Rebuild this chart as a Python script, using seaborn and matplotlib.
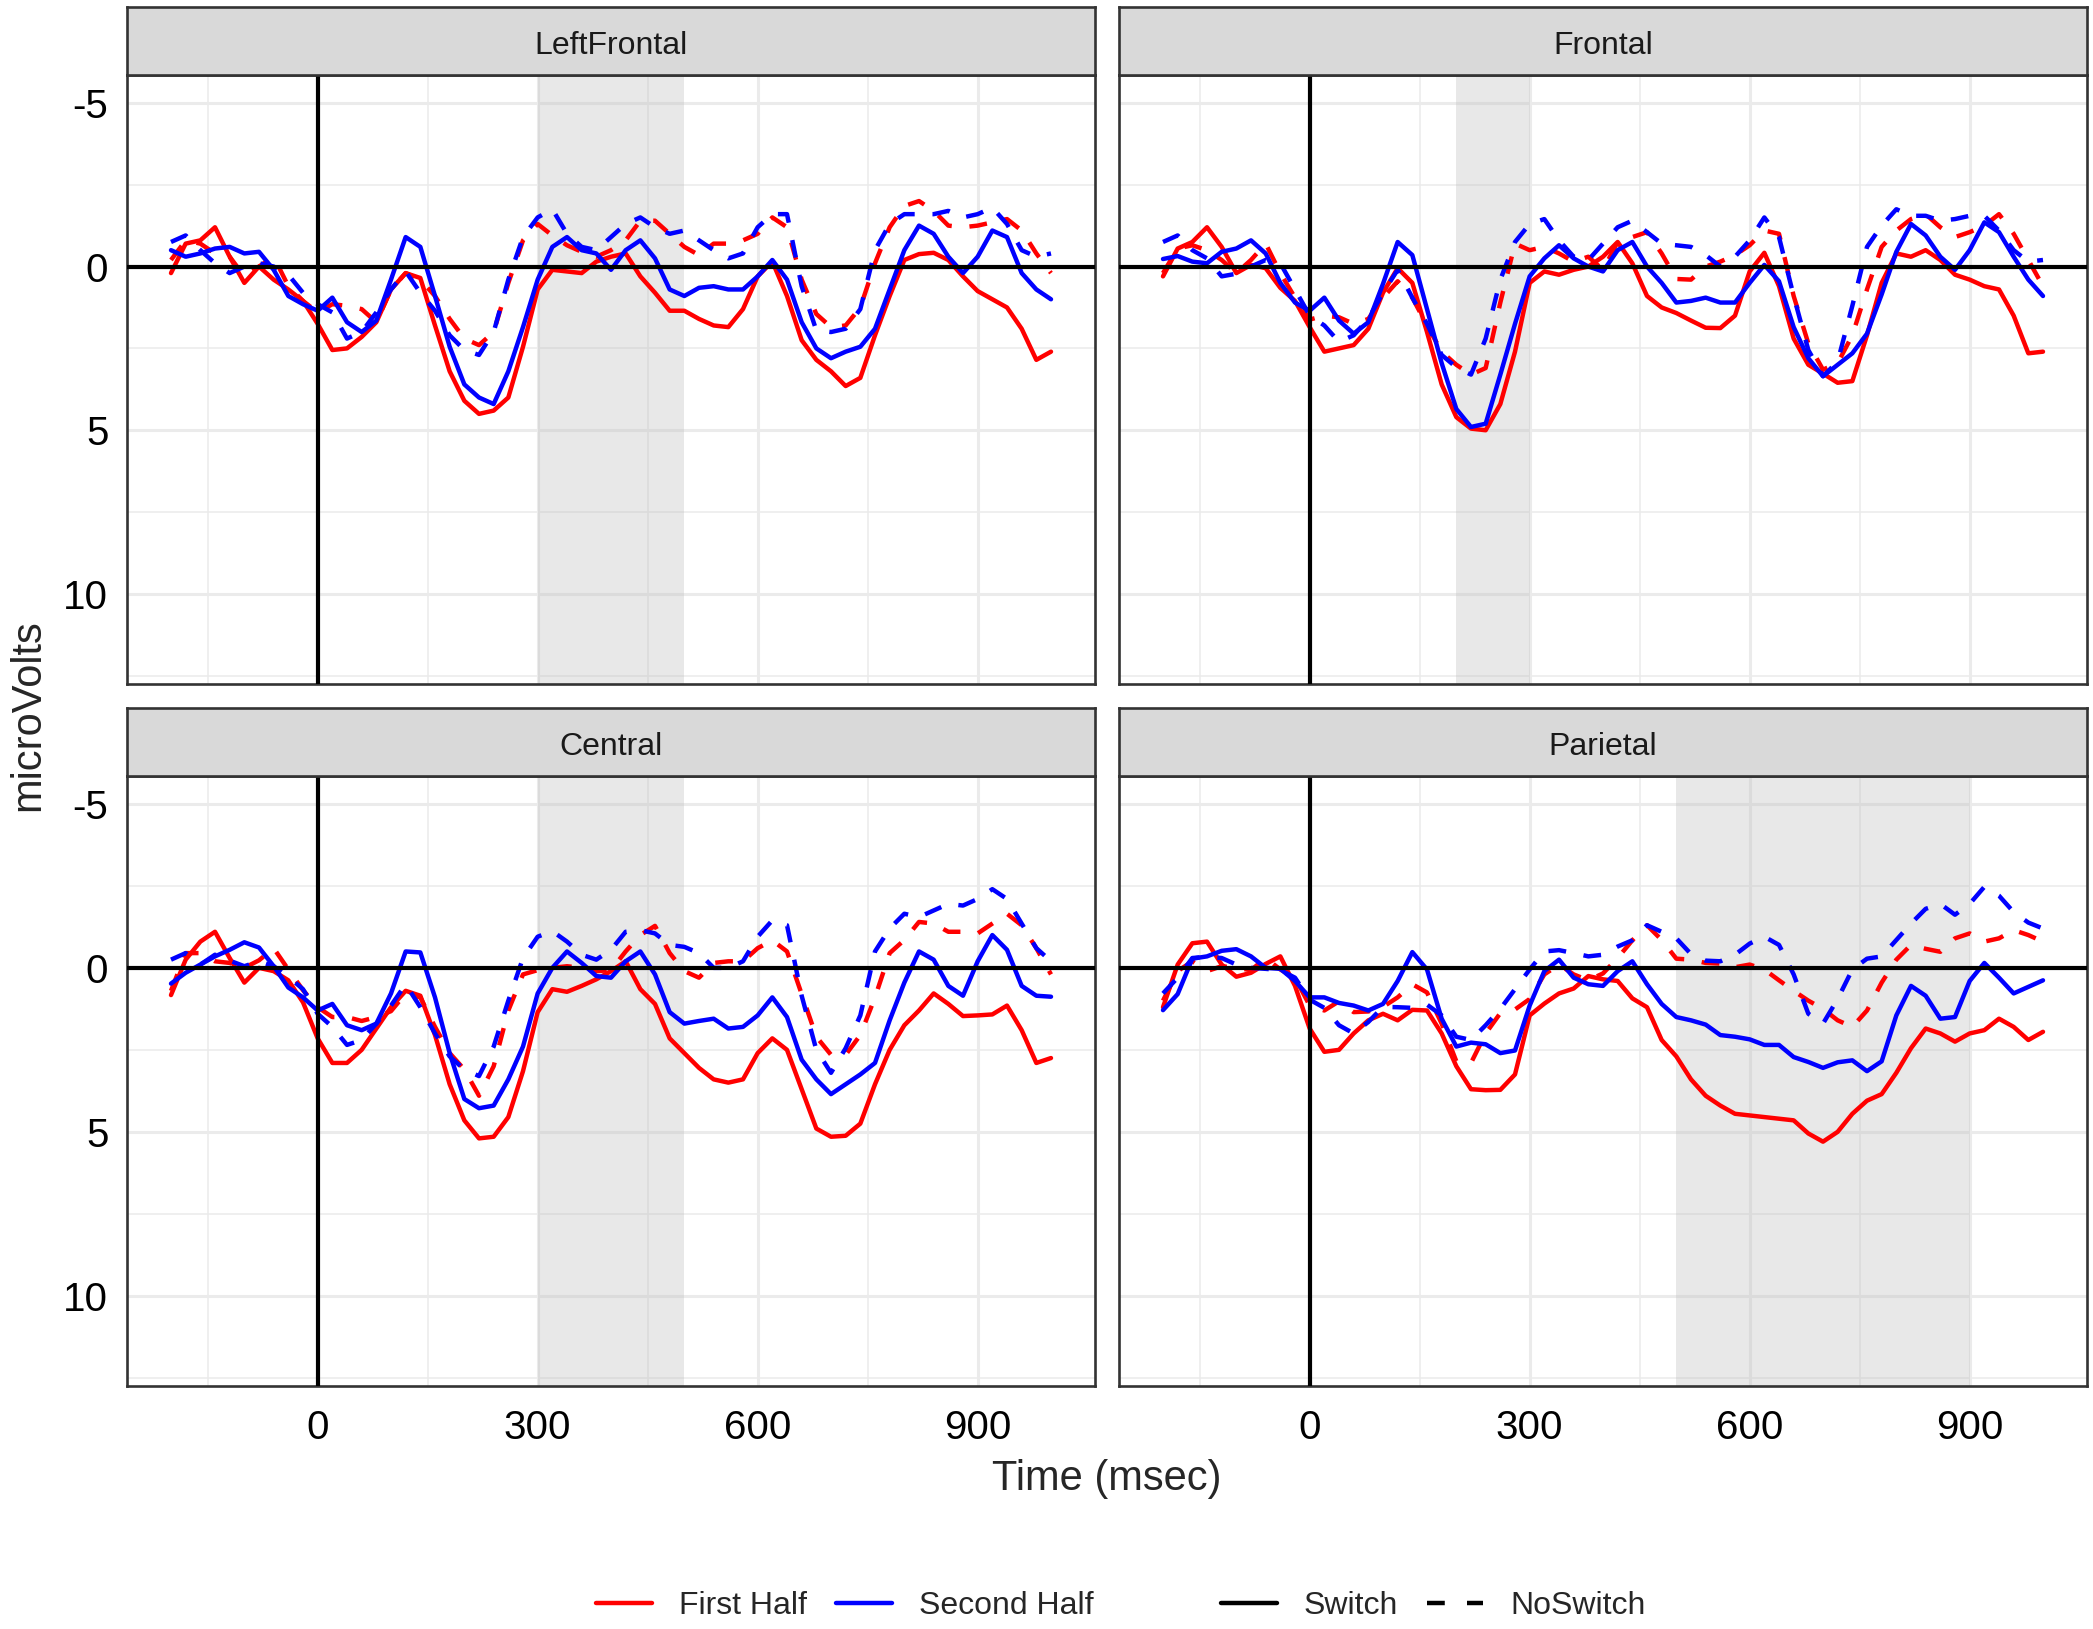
import matplotlib
matplotlib.use("Agg")
import matplotlib.pyplot as plt
import pandas as pd
import seaborn as sns
from matplotlib.lines import Line2D

# sampling grid (msec) and electrode regions
time_ms = list(range(-200, 1001, 20))
regions = ["LeftFrontal", "Frontal", "Central", "Parietal"]
halves = ["First Half", "Second Half"]
conditions = ["Switch", "NoSwitch"]
shade_windows = {"LeftFrontal": (300, 500), "Frontal": (200, 300),
                 "Central": (300, 500), "Parietal": (500, 900)}

# values (microvolts, negative up)
lf_first_switch = [
    0.2, -0.7, -0.8, -1.2, -0.3, 0.5, 0.0, 0.4, 0.7, 1.05,
    1.75, 2.55, 2.5, 2.15, 1.7, 0.7, 0.2, 0.35, 1.8, 3.2,
    4.1, 4.5, 4.4, 4.0, 2.45, 0.7, 0.1, 0.15, 0.2, -0.15,
    -0.3, -0.4, 0.3, 0.8, 1.35, 1.35, 1.6, 1.8, 1.85, 1.3,
    0.3, -0.15, 0.9, 2.25, 2.85, 3.2, 3.65, 3.4, 2.1, 0.9,
    -0.2, -0.38, -0.42, -0.2, 0.3, 0.75, 1.0, 1.25, 1.9, 2.85,
    2.6]
lf_second_switch = [
    -0.5, -0.3, -0.4, -0.55, -0.6, -0.4, -0.45, 0.1, 0.9, 1.15,
    1.35, 0.95, 1.7, 2.0, 1.65, 0.4, -0.9, -0.6, 0.9, 2.45,
    3.6, 4.0, 4.2, 3.2, 1.85, 0.4, -0.6, -0.9, -0.5, -0.4,
    0.1, -0.5, -0.8, -0.25, 0.7, 0.9, 0.65, 0.6, 0.7, 0.7,
    0.3, -0.2, 0.4, 1.7, 2.5, 2.8, 2.6, 2.45, 1.9, 0.7,
    -0.5, -1.25, -1.0, -0.3, 0.2, -0.3, -1.1, -0.9, 0.2, 0.7,
    1.0]
lf_first_noswitch = [
    -0.2, -0.8, -0.7, -0.4, -0.3, 0.3, 0.0, -0.3, 0.6, 1.05,
    1.4, 1.15, 1.2, 1.3, 1.7, 0.7, 0.2, 0.4, 0.9, 1.6,
    2.2, 2.4, 2.0, 0.5, -0.8, -1.3, -0.95, -0.65, -0.45, -0.3,
    -0.5, -0.8, -1.4, -1.4, -1.0, -0.6, -0.35, -0.7, -0.7, -0.8,
    -1.0, -1.5, -1.2, 0.4, 1.45, 1.85, 1.8, 1.25, -0.1, -1.2,
    -1.85, -2.0, -1.7, -1.25, -1.2, -1.25, -1.35, -1.45, -1.1, -0.4,
    0.2]
lf_second_noswitch = [
    -0.75, -0.95, -0.5, -0.1, 0.2, 0.0, -0.1, 0.0, 0.25, 0.8,
    1.15, 1.4, 2.2, 2.0, 1.4, 0.7, 0.15, 0.8, 1.35, 2.1,
    2.55, 2.7, 2.0, 0.4, -0.9, -1.5, -1.75, -1.0, -0.6, -0.5,
    -0.9, -1.3, -1.5, -1.2, -1.0, -1.1, -0.8, -0.5, -0.25, -0.4,
    -1.2, -1.6, -1.6, 0.6, 1.95, 2.0, 1.9, 1.3, -0.5, -1.3,
    -1.6, -1.6, -1.6, -1.7, -1.5, -1.6, -1.8, -1.3, -0.5, -0.3,
    -0.4]

fr_first_switch = [
    0.3, -0.55, -0.75, -1.2, -0.6, 0.2, -0.05, 0.05, 0.65, 1.05,
    1.85, 2.6, 2.5, 2.4, 1.9, 0.8, 0.05, 0.5, 2.0, 3.6,
    4.6, 4.95, 5.0, 4.2, 2.6, 0.5, 0.15, 0.25, 0.1, 0.0,
    -0.3, -0.75, -0.1, 0.9, 1.25, 1.42, 1.65, 1.87, 1.88, 1.5,
    0.15, -0.42, 0.6, 2.2, 3.0, 3.27, 3.55, 3.5, 2.1, 0.5,
    -0.4, -0.3, -0.5, -0.2, 0.25, 0.4, 0.6, 0.7, 1.5, 2.65,
    2.6]
fr_second_switch = [
    -0.23, -0.32, -0.15, -0.1, -0.45, -0.55, -0.8, -0.4, 0.5, 1.1,
    1.35, 0.95, 1.65, 2.05, 1.7, 0.53, -0.75, -0.35, 1.3, 2.95,
    4.35, 4.9, 4.8, 3.3, 1.75, 0.3, -0.25, -0.65, -0.25, 0.0,
    0.15, -0.5, -0.75, 0.0, 0.5, 1.1, 1.05, 0.95, 1.1, 1.1,
    0.5, -0.05, 0.45, 1.85, 2.8, 3.35, 3.0, 2.65, 2.05, 0.85,
    -0.45, -1.3, -0.95, -0.3, 0.1, -0.5, -1.35, -1.05, -0.3, 0.4,
    0.9]
fr_first_noswitch = [
    0.2, -0.55, -0.65, -0.5, -0.2, 0.2, -0.2, -0.7, 0.2, 0.95,
    1.62, 1.5, 1.55, 1.75, 1.6, 0.95, 0.45, 0.95, 1.8, 2.6,
    3.0, 3.3, 3.1, 1.1, -0.7, -0.5, -0.6, -0.4, -0.15, -0.3,
    0.1, -0.75, -0.9, -1.05, -0.4, 0.38, 0.4, 0.0, -0.15, -0.35,
    -0.65, -1.1, -1.0, 0.9, 2.35, 3.15, 2.95, 2.1, 0.7, -0.6,
    -1.1, -1.45, -1.6, -1.2, -0.9, -1.05, -1.25, -1.6, -1.0, -0.2,
    0.6]
fr_second_noswitch = [
    -0.75, -0.95, -0.5, -0.25, 0.3, 0.22, 0.0, -0.2, -0.1, 0.7,
    1.5, 1.8, 2.3, 2.1, 1.6, 0.8, 0.1, 0.95, 1.75, 2.7,
    3.08, 3.3, 2.2, 0.4, -0.75, -1.3, -1.45, -0.8, -0.3, -0.2,
    -0.7, -1.2, -1.4, -1.05, -0.7, -0.65, -0.6, -0.35, 0.0, -0.3,
    -0.8, -1.5, -0.9, 0.9, 2.55, 3.35, 2.9, 1.2, -0.6, -1.25,
    -1.75, -1.55, -1.55, -1.4, -1.45, -1.55, -1.55, -1.1, -0.5, -0.15,
    -0.2]

ce_first_switch = [
    0.83, -0.25, -0.8, -1.1, -0.3, 0.45, 0.0, 0.1, 0.38, 1.05,
    2.15, 2.9, 2.9, 2.5, 1.85, 1.2, 0.7, 0.85, 2.05, 3.55,
    4.65, 5.2, 5.15, 4.55, 3.15, 1.35, 0.65, 0.73, 0.55, 0.35,
    0.1, -0.2, 0.65, 1.1, 2.15, 2.6, 3.05, 3.4, 3.5, 3.4,
    2.6, 2.15, 2.5, 3.7, 4.9, 5.15, 5.12, 4.75, 3.55, 2.5,
    1.75, 1.3, 0.78, 1.1, 1.47, 1.45, 1.42, 1.15, 1.9, 2.9,
    2.75]
ce_second_switch = [
    0.48, 0.15, -0.1, -0.35, -0.55, -0.78, -0.62, -0.05, 0.6, 0.9,
    1.3, 1.1, 1.75, 1.9, 1.7, 0.78, -0.5, -0.47, 0.9, 2.6,
    4.0, 4.28, 4.2, 3.4, 2.4, 0.78, 0.0, -0.5, -0.15, 0.25,
    0.3, -0.2, -0.5, 0.2, 1.35, 1.7, 1.62, 1.55, 1.85, 1.8,
    1.45, 0.9, 1.5, 2.8, 3.4, 3.85, 3.55, 3.25, 2.9, 1.6,
    0.45, -0.5, -0.25, 0.55, 0.85, -0.2, -1.0, -0.55, 0.55, 0.85,
    0.88]
ce_first_noswitch = [
    0.7, -0.45, -0.45, -0.2, -0.15, 0.0, -0.23, -0.6, 0.05, 0.68,
    1.2, 1.5, 1.5, 1.62, 1.5, 1.32, 0.78, 0.9, 1.8, 2.6,
    3.1, 3.9, 3.0, 1.3, 0.2, 0.07, 0.0, -0.05, 0.0, 0.1,
    0.07, -0.5, -1.0, -1.28, -0.45, 0.1, 0.3, -0.15, -0.2, -0.2,
    -0.6, -0.84, -0.5, 0.8, 2.1, 2.65, 2.65, 2.05, 0.9, -0.45,
    -0.85, -1.4, -1.35, -1.1, -1.1, -1.05, -1.35, -1.65, -1.3, -0.6,
    0.2]
ce_second_noswitch = [
    -0.25, -0.45, -0.1, -0.4, -0.22, -0.05, -0.2, -0.05, 0.27, 0.65,
    1.4, 1.8, 2.35, 2.2, 1.7, 1.15, 0.5, 1.2, 2.0, 2.7,
    3.1, 3.3, 2.4, 1.0, -0.3, -0.95, -1.12, -0.8, -0.4, -0.25,
    -0.55, -1.1, -1.15, -1.05, -0.7, -0.64, -0.45, 0.0, 0.0, -0.2,
    -0.95, -1.45, -1.3, 0.85, 2.5, 3.2, 2.45, 1.45, -0.5, -1.2,
    -1.65, -1.55, -1.75, -1.95, -1.9, -2.1, -2.4, -2.1, -1.35, -0.6,
    -0.2]

pa_first_switch = [
    1.2, -0.1, -0.75, -0.8, -0.1, 0.27, 0.15, -0.12, -0.35, 0.55,
    1.85, 2.56, 2.5, 2.0, 1.6, 1.4, 1.6, 1.28, 1.3, 2.0,
    3.0, 3.7, 3.73, 3.72, 3.25, 1.45, 1.09, 0.78, 0.63, 0.25,
    0.35, 0.4, 0.93, 1.2, 2.2, 2.7, 3.4, 3.9, 4.2, 4.45,
    4.5, 4.55, 4.6, 4.65, 5.05, 5.3, 5.0, 4.45, 4.05, 3.85,
    3.2, 2.45, 1.85, 2.0, 2.25, 2.0, 1.9, 1.55, 1.8, 2.2,
    1.95]
pa_second_switch = [
    1.29, 0.8, -0.28, -0.35, -0.52, -0.57, -0.35, 0.0, 0.03, 0.4,
    0.9, 0.9, 1.07, 1.15, 1.3, 1.1, 0.4, -0.48, 0.05, 1.55,
    2.4, 2.28, 2.33, 2.6, 2.52, 1.15, 0.1, -0.25, 0.3, 0.5,
    0.55, 0.1, -0.2, 0.5, 1.1, 1.5, 1.6, 1.73, 2.05, 2.1,
    2.18, 2.35, 2.35, 2.72, 2.87, 3.05, 2.88, 2.82, 3.15, 2.85,
    1.45, 0.55, 0.85, 1.55, 1.5, 0.4, -0.15, 0.3, 0.78, 0.58,
    0.38]
pa_first_noswitch = [
    1.0, 0.1, -0.2, 0.1, -0.05, 0.0, 0.07, -0.3, 0.05, 0.3,
    1.15, 1.3, 1.02, 1.35, 1.33, 1.19, 0.9, 0.5, 0.75, 1.7,
    2.85, 2.9, 2.0, 1.38, 1.27, 0.95, 0.2, -0.1, 0.2, 0.38,
    0.17, -0.3, -0.84, -1.3, -0.85, -0.28, -0.25, -0.15, -0.13, -0.02,
    -0.1, 0.05, 0.38, 0.7, 1.0, 1.25, 1.6, 1.8, 1.3, 0.45,
    -0.25, -0.7, -0.58, -0.49, -0.9, -1.05, -0.8, -0.9, -1.15, -1.0,
    -0.8]
pa_second_noswitch = [
    0.78, 0.3, -0.3, -0.34, -0.3, -0.1, 0.0, 0.03, 0.07, 0.3,
    0.97, 1.22, 1.75, 2.0, 1.65, 1.19, 1.2, 1.22, 1.12, 1.45,
    2.1, 2.2, 1.75, 1.25, 0.65, 0.05, -0.5, -0.54, -0.45, -0.35,
    -0.4, -0.65, -0.84, -1.3, -1.1, -0.9, -0.42, -0.22, -0.2, -0.4,
    -0.74, -0.95, -0.7, 0.2, 1.4, 1.7, 0.95, 0.05, -0.28, -0.35,
    -0.85, -1.35, -1.8, -1.95, -1.62, -1.95, -2.47, -2.2, -1.7, -1.38,
    -1.2]

series = {
    ("LeftFrontal", "First Half", "Switch"): lf_first_switch,
    ("LeftFrontal", "Second Half", "Switch"): lf_second_switch,
    ("LeftFrontal", "First Half", "NoSwitch"): lf_first_noswitch,
    ("LeftFrontal", "Second Half", "NoSwitch"): lf_second_noswitch,
    ("Frontal", "First Half", "Switch"): fr_first_switch,
    ("Frontal", "Second Half", "Switch"): fr_second_switch,
    ("Frontal", "First Half", "NoSwitch"): fr_first_noswitch,
    ("Frontal", "Second Half", "NoSwitch"): fr_second_noswitch,
    ("Central", "First Half", "Switch"): ce_first_switch,
    ("Central", "Second Half", "Switch"): ce_second_switch,
    ("Central", "First Half", "NoSwitch"): ce_first_noswitch,
    ("Central", "Second Half", "NoSwitch"): ce_second_noswitch,
    ("Parietal", "First Half", "Switch"): pa_first_switch,
    ("Parietal", "Second Half", "Switch"): pa_second_switch,
    ("Parietal", "First Half", "NoSwitch"): pa_first_noswitch,
    ("Parietal", "Second Half", "NoSwitch"): pa_second_noswitch,
}

rows = []
for (region, half, cond), vals in series.items():
    for t, v in zip(time_ms, vals):
        rows.append({"region": region, "half": half, "cond": cond, "time": t, "uv": v})
df = pd.DataFrame(rows)

sns.set_style("white")
plt.rcParams["font.family"] = ["Liberation Sans", "DejaVu Sans"]
plt.rcParams["axes.unicode_minus"] = False

W, H = 2093, 1629
fig = plt.figure(figsize=(W / 100, H / 100), dpi=100)


def box(l, t, r, b):
    return [l / W, 1 - b / H, (r - l) / W, (b - t) / H]


panel_px = {"LeftFrontal": (127, 75, 1095, 684), "Frontal": (1119, 75, 2087, 684),
            "Central": (127, 776, 1095, 1386), "Parietal": (1119, 776, 2087, 1386)}
palette = {"First Half": "#ff0000", "Second Half": "#0000ff"}
dashes = {"Switch": "", "NoSwitch": (4, 4)}
dark = "#333333"
lw = 3.2

for i, region in enumerate(regions):
    l, t, r, b = panel_px[region]
    ax = fig.add_axes(box(l, t, r, b))
    lo, hi = shade_windows[region]
    ax.axvspan(lo, hi, color="#bebebe", alpha=0.35, lw=0, zorder=1)
    sub = df[df["region"] == region]
    sns.lineplot(data=sub, x="time", y="uv", hue="half", style="cond",
                 hue_order=halves, style_order=conditions, palette=palette,
                 dashes=dashes, linewidth=lw, errorbar=None, legend=False, ax=ax)
    ax.axhline(0, color="black", lw=3, zorder=3)
    ax.axvline(0, color="black", lw=3, zorder=3)

    ax.set_xlim(-260, 1060)
    ax.set_ylim(12.75, -5.85)
    ax.set_xticks([0, 300, 600, 900])
    ax.set_xticks([-150, 150, 450, 750], minor=True)
    ax.set_yticks([-5, 0, 5, 10])
    ax.set_yticks([-2.5, 2.5, 7.5, 12.5], minor=True)
    ax.set_axisbelow(True)
    ax.grid(which="major", color="#ebebeb", lw=2.2)
    ax.grid(which="minor", color="#ebebeb", lw=1.1)
    ax.tick_params(which="minor", length=0)
    ax.tick_params(which="major", length=8.5, width=1.9, color=dark,
                   labelsize=29, labelcolor="black")
    ax.tick_params(axis="x", pad=8)
    ax.tick_params(axis="y", pad=5)
    if i % 2 == 1:
        ax.tick_params(axis="y", left=False, labelleft=False)
    if i < 2:
        ax.tick_params(axis="x", bottom=False, labelbottom=False)
    ax.set_xlabel("")
    ax.set_ylabel("")
    for sp in ax.spines.values():
        sp.set_color(dark)
        sp.set_linewidth(1.9)

    sax = fig.add_axes(box(l, t - 68, r, t))
    sax.set_facecolor("#d9d9d9")
    sax.set_xticks([])
    sax.set_yticks([])
    for sp in sax.spines.values():
        sp.set_color(dark)
        sp.set_linewidth(1.9)
    sax.text(0.5, 0.31, region, ha="center", va="baseline", fontsize=23, color="#1a1a1a",
             transform=sax.transAxes)

fig.text(1107 / W, 1 - 1490 / H, "Time (msec)", ha="center", va="baseline", fontsize=30)
fig.text(28 / W, 1 - 715 / H, "microVolts", rotation=90, ha="center", va="center", fontsize=30)

col_handles = [Line2D([], [], color=palette[h], lw=lw) for h in halves]
fig.legend(col_handles, halves, loc="center", bbox_to_anchor=(845 / W, 1 - 1606 / H),
           ncol=2, frameon=False, fontsize=23, handlelength=1.75, handletextpad=0.85,
           columnspacing=0.9)
sty_handles = [Line2D([], [], color="black", lw=lw),
               Line2D([], [], color="black", lw=lw, dashes=(4, 5))]
fig.legend(sty_handles, conditions, loc="center", bbox_to_anchor=(1433 / W, 1 - 1606 / H),
           ncol=2, frameon=False, fontsize=23, handlelength=1.75, handletextpad=0.85,
           columnspacing=0.9)

fig.savefig("out.png", dpi=100)
